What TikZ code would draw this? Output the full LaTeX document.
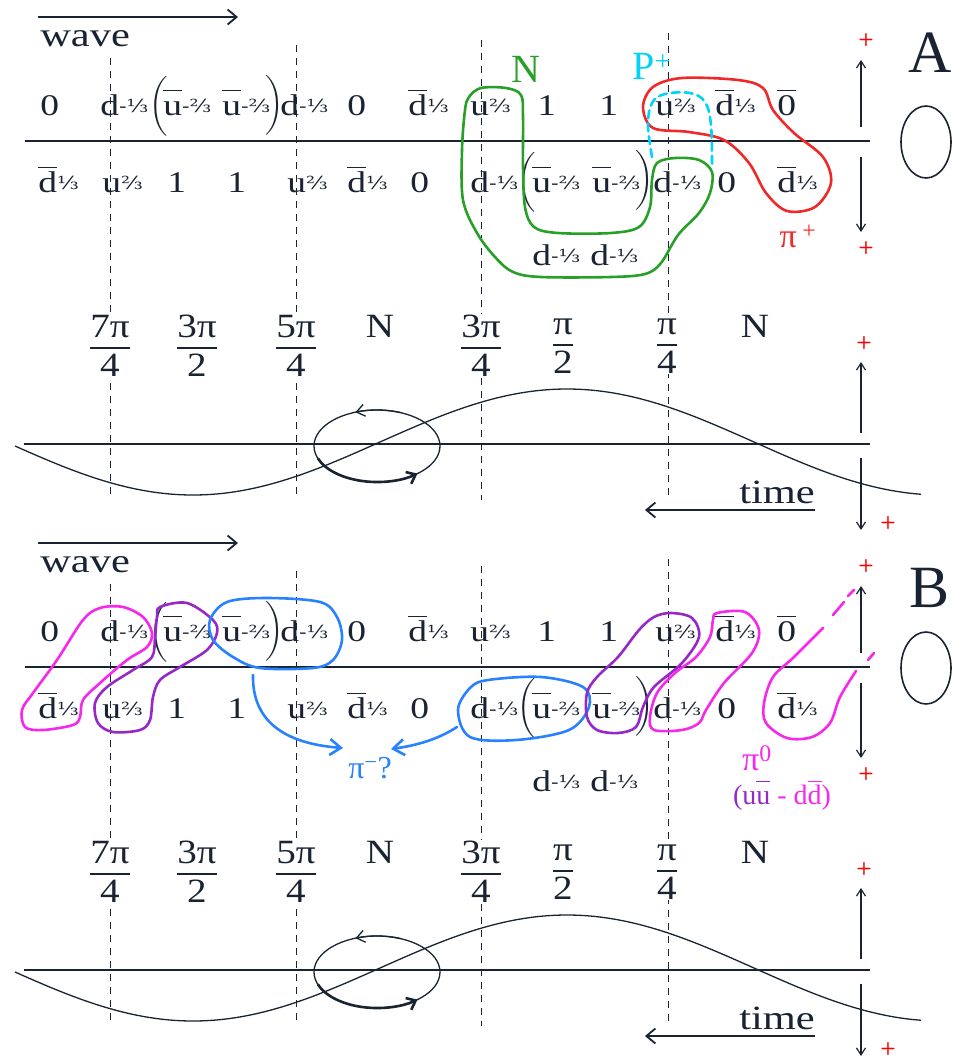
\documentclass[tikz,border=0pt]{standalone}
\usepackage{amsmath}
\usepackage{fontspec}
\setmainfont{Liberation Serif}
\newfontfamily\fracfont{DejaVu Serif}
\usetikzlibrary{arrows.meta,calc}
\definecolor{ink}{RGB}{25,35,50}
\definecolor{nclr}{RGB}{40,160,40}
\definecolor{pclr}{RGB}{0,210,250}
\definecolor{piplus}{RGB}{240,40,40}
\definecolor{piminus}{RGB}{40,130,255}
\definecolor{pizero}{RGB}{245,40,235}
\definecolor{uubar}{RGB}{150,40,200}
% quark labels with their charges
\newcommand{\chg}[1]{\raisebox{3pt}{\fracfont\fontsize{18}{18}\selectfont#1}}
\newcommand{\ovl}[1]{$\overline{\mbox{#1}\vphantom{\mbox{d}}}$}
\newcommand{\qdm}{d\chg{-⅓}}
\newcommand{\qdb}{\ovl{d}\chg{⅓}}
\newcommand{\qu}{u\chg{⅔}}
\newcommand{\qub}{\ovl{u}\chg{-⅔}}
\newcommand{\phs}[2]{$\genfrac{}{}{1.8pt}{0}{\mbox{#1}}{\mbox{#2}}$}
\tikzset{
  qk/.style={font=\fontsize{30}{32}\selectfont, text=ink, inner sep=0pt, anchor=base west, xscale=1.25},
  brk/.style={text=ink, inner sep=0pt, font=\fontsize{30}{32}\selectfont},
  word/.style={font=\fontsize{34}{36}\selectfont, text=ink, inner sep=0pt, anchor=base west, xscale=1.25},
  phase/.style={font=\fontsize{34}{36}\selectfont, text=ink, fill=white, inner sep=1pt, xscale=1.15},
  tag/.style={inner sep=0pt, font=\fontsize{34}{36}\selectfont},
  plus/.style={text=red, font=\sffamily\bfseries\fontsize{18}{18}\selectfont, inner sep=0pt},
  vdash/.style={draw=ink, dash pattern=on 7pt off 6pt, line width=1pt},
  axis/.style={draw=ink, line width=1.6pt},
  bigarrow/.style={draw=ink, -{Straight Barb[length=9pt,width=15pt]}, line width=1.8pt},
  thinarrow/.style={draw=ink, -{Straight Barb[length=7pt,width=9pt]}, line width=1.2pt},
  loopline/.style={line width=2.6pt, line join=round, line cap=round},
}
\begin{document}
\begin{tikzpicture}[x=1pt,y=-1pt]
  \useasboundingbox (0,0) rectangle (954,1061);
  \foreach \p/\off in {A/0,B/526}{
  \begin{scope}[shift={(0,\off)}]
    % direction arrows
    \coordinate (\p-w0) at (38,17);
    \coordinate (\p-w1) at (238,17);
    \draw[bigarrow] (\p-w0) -- (\p-w1);
    \node[word] (\p-wave) at (40,46) {wave};
    \coordinate (\p-t0) at (815,510);
    \coordinate (\p-t1) at (645,510);
    \draw[bigarrow] (\p-t0) -- (\p-t1);
    \node[word] (\p-time) at (739,503) {time};
    % phase lines and axes
    \foreach \x/\t in {110/58,296/45,481/40,668/33}
      \draw[vdash] (\x,\t) -- (\x,500);
    \draw[axis] (25,141) -- (870,141);
    \draw[axis] (24,444) -- (870,444);
    % quark rows
    \foreach \x/\q [count=\i] in {40/0,100/\qdm,163/\qub,222/\qub,280/\qdm,347/0,408/\qdb,
        470/\qu,537/1,599/1,655/\qu,715/\qdb,777/\ovl{0}}
      \node[qk] (\p-up\i) at (\x,115) {\q};
    \node[brk] (\p-lp1) at (159,106) {$\bigg($};
    \node[brk] (\p-rp1) at (275,105) {$\bigg)$};
    \foreach \x/\q [count=\i] in {38/\qdb,102/\qu,167/1,227/1,287/\qu,347/\qdb,410/0,
        470/\qdm,532/\qub,592/\qub,653/\qdm,717/0,777/\qdb}
      \node[qk] (\p-dn\i) at (\x,192) {\q};
    \node[brk] (\p-lp2) at (527,182) {$\bigg($};
    \node[brk] (\p-rp2) at (645,180) {$\bigg)$};
    \node[qk] (\p-dd1) at (532,265) {\qdm};
    \node[qk] (\p-dd2) at (590,265) {\qdm};
    % phases
    \foreach \x/\n/\d [count=\i] in {110/7π/4,197/3π/2,296/5π/4,481/3π/4,563/π/2,667/π/4}
      \node[phase] (\p-ph\i) at (\x,346) {\phs{\n}{\d}};
    \node[phase, fill=none] (\p-n1) at (380,326) {N};
    \node[phase, fill=none] (\p-n2) at (755,326) {N};
    % wave and rotation
    \draw[ink, line width=1.3pt] plot[domain=15:921, samples=120, smooth]
      (\x,{442-53*sin((\x-380)*0.4813)});
    \coordinate (\p-ring) at (377,446);
    \draw[ink, line width=1.3pt] (\p-ring) ellipse [x radius=63, y radius=36];
    \draw[ink, line width=2.6pt, -{Straight Barb[length=8pt,width=13pt]}]
      ($(\p-ring)+(160:63 and 36)$) arc[start angle=160, end angle=50, x radius=63, y radius=36];
    \draw[ink, line width=1.3pt, -{Straight Barb[length=8pt,width=12pt]}]
      ($(\p-ring)+(292:63 and 36)$) arc[start angle=292, end angle=250, x radius=63, y radius=36];
    % charge arrows
    \node[plus] (\p-pa) at (866,40) {+};
    \node[plus] (\p-pb) at (866,248) {+};
    \node[plus] (\p-pc) at (864,343) {+};
    \node[plus] (\p-pd) at (888,523) {+};
    \coordinate (\p-a1) at (861,127); \coordinate (\p-a2) at (861,60);
    \coordinate (\p-a3) at (861,157); \coordinate (\p-a4) at (861,232);
    \coordinate (\p-a5) at (861,433); \coordinate (\p-a6) at (861,362);
    \coordinate (\p-a7) at (861,458); \coordinate (\p-a8) at (861,530);
    \draw[thinarrow] (\p-a1) -- (\p-a2);
    \draw[thinarrow] (\p-a3) -- (\p-a4);
    \draw[thinarrow] (\p-a5) -- (\p-a6);
    \draw[thinarrow] (\p-a7) -- (\p-a8);
    \draw[ink, line width=1.6pt] (926,142) ellipse [x radius=25, y radius=36];
  \end{scope}
  }
  \node[font=\fontsize{60}{60}\selectfont, text=ink, inner sep=0pt] (labA) at (930,53) {A};
  \node[font=\fontsize{60}{60}\selectfont, text=ink, inner sep=0pt] (labB) at (930,588) {B};

  % panel A: N, P+ and pi+
  \draw[loopline, nclr] plot[smooth cycle, tension=0.55] coordinates {(469,97) (481,88) (506,88)
    (521,95) (523,117) (523,167) (525,207) (534,227) (558,233) (611,233) (639,227) (650,207)
    (652,180) (657,163) (675,158) (699,160) (712,172) (710,193) (699,213) (678,235) (661,263)
    (645,274) (611,277) (541,277) (513,272) (495,257) (477,233) (463,200) (462,150) (465,110)};
  \draw[loopline, piplus] plot[smooth cycle, tension=0.55] coordinates {(643,107) (653,87) (682,78)
    (738,80) (763,88) (773,110) (794,133) (823,157) (831,183) (815,207) (787,211) (766,193)
    (749,163) (724,140) (689,132) (653,128)};
  \draw[loopline, pclr, dash pattern=on 8pt off 5pt] plot[smooth, tension=0.6] coordinates {(652,157)
    (648,125) (652,103) (665,94) (690,93) (705,102) (711,125) (712,167)};
  \node[tag, text=nclr, font=\fontsize{40}{40}\selectfont] (nlab) at (526,69) {N};
  \node[tag, text=pclr, font=\fontsize{40}{40}\selectfont] (plab) at (652,66) {P\textsuperscript{+}};
  \node[tag, text=piplus] (pplab) at (798,236) {π\,\textsuperscript{+}};

  % panel B: pi0 pairs and pi-
  \draw[loopline, pizero] plot[smooth cycle, tension=0.55] coordinates {(22,710) (33,693) (57,660)
    (83,620) (100,608) (123,607) (143,617) (152,633) (147,647) (127,660) (100,683) (83,700)
    (80,717) (73,725) (43,730) (25,727)};
  \draw[loopline, uubar] plot[smooth cycle, tension=0.55] coordinates {(160,607) (187,603) (213,620)
    (217,633) (207,650) (180,667) (160,680) (153,697) (150,720) (140,730) (113,732) (98,723)
    (95,703) (107,687) (133,670) (152,657) (155,637) (157,617)};
  \draw[loopline, piminus] plot[smooth cycle, tension=0.55] coordinates {(210,620) (227,602) (267,598)
    (320,602) (337,617) (342,640) (333,660) (313,668) (260,668) (233,657) (213,640)};
  \draw[loopline, piminus] plot[smooth cycle, tension=0.55] coordinates {(458,710) (470,688)
    (488,680) (541,677) (583,687) (589,707) (569,730) (516,740) (470,737)};
  \draw[loopline, uubar] plot[smooth cycle, tension=0.55] coordinates {(671,613) (692,618) (699,637)
    (682,663) (654,687) (643,707) (636,727) (618,733) (597,730) (587,717) (587,693) (597,677)
    (618,657) (639,630) (654,617)};
  \draw[loopline, pizero] plot[smooth cycle, tension=0.55] coordinates {(717,613) (745,612) (759,630)
    (752,653) (724,683) (706,710) (699,723) (682,730) (654,730) (650,717) (657,693) (675,673)
    (696,657) (710,637) (713,620)};
  \draw[loopline, pizero] plot[smooth, tension=0.55] coordinates {(823,628) (794,657) (773,677)
    (764,703) (766,723) (787,738) (812,737) (830,723) (840,697) (856,671)};
  \draw[loopline, pizero] (833,615) -- (844,602);
  \draw[loopline, pizero] (848,596) -- (854,590);
  \draw[loopline, pizero] (868,660) -- (874,653);
  \node[tag, text=piminus, font=\fontsize{32}{34}\selectfont] (pmlab) at (370,768) {π\textsuperscript{−}?};
  \coordinate (bm1) at (253,675);
  \coordinate (bm2) at (457,727);
  \coordinate (pmL) at (343,748);
  \coordinate (pmR) at (391,749);
  \draw[loopline, piminus, -{Straight Barb[length=11pt,width=16pt]}] (bm1) .. controls (252,725) and (290,744) .. (pmL);
  \draw[loopline, piminus, -{Straight Barb[length=11pt,width=16pt]}] (bm2) .. controls (440,738) and (420,745) .. (pmR);
  \node[tag, text=pizero] (p0lab) at (757,758) {π\textsuperscript{0}};
  \node[tag, font=\fontsize{28}{30}\selectfont] (mixlab) at (782,795)
    {\textcolor{uubar}{(u\ovl{u}} \textcolor{pizero}{- d\ovl{d})}};
\end{tikzpicture}
\end{document}
